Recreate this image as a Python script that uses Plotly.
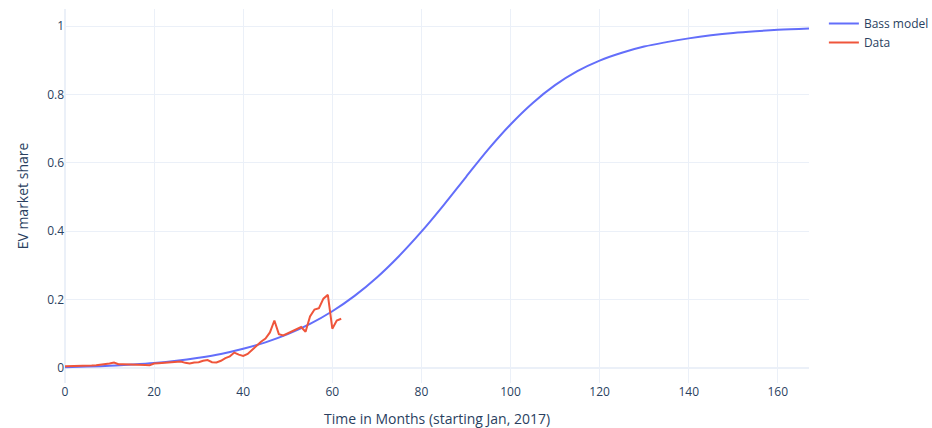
import plotly.graph_objects as go

# Fitted Bass diffusion curve (month, cumulative share)
bass_months = [0, 5, 10, 15, 20, 25, 30, 35, 40, 45, 50, 55, 60, 65, 70, 75, 80, 85,
               90, 95, 100, 105, 110, 115, 120, 125, 130, 135, 140, 145, 150, 155,
               160, 167]
bass_share = [0.001, 0.003, 0.0055, 0.009, 0.0135, 0.020, 0.029, 0.040, 0.055, 0.074,
              0.098, 0.128, 0.165, 0.210, 0.264, 0.327, 0.398, 0.476, 0.558, 0.639,
              0.712, 0.775, 0.827, 0.868, 0.899, 0.922, 0.940, 0.953, 0.964, 0.973,
              0.980, 0.985, 0.989, 0.993]

# Observed monthly EV share since Jan 2017
data_months = list(range(63))
data_share = [0.004, 0.004, 0.004, 0.005, 0.005, 0.006, 0.006, 0.007, 0.008, 0.009,
              0.012, 0.015, 0.010, 0.010, 0.010, 0.009, 0.009, 0.008, 0.008, 0.007,
              0.012, 0.013, 0.014, 0.015, 0.016, 0.017, 0.018, 0.014, 0.012, 0.015,
              0.016, 0.020, 0.022, 0.016, 0.015, 0.020, 0.028, 0.033, 0.044, 0.038,
              0.034, 0.040, 0.052, 0.065, 0.076, 0.085, 0.103, 0.138, 0.098, 0.094,
              0.100, 0.106, 0.112, 0.119, 0.105, 0.150, 0.170, 0.174, 0.202, 0.213,
              0.114, 0.138, 0.143]

fig = go.Figure()
fig.add_trace(go.Scatter(x=bass_months, y=bass_share, mode="lines", name="Bass model",
                         line=dict(color="#636efa", width=2, shape="spline")))
fig.add_trace(go.Scatter(x=data_months, y=data_share, mode="lines", name="Data",
                         line=dict(color="#EF553B", width=2)))

fig.update_layout(
    template="plotly_white",
    width=932, height=428,
    margin=dict(l=65, r=123, t=9, b=45, autoexpand=False),
    xaxis=dict(title="Time in Months (starting Jan, 2017)", range=[0, 167]),
    yaxis=dict(title="EV market share", range=[-0.045, 1.05]),
)
fig.write_html("out.html")
